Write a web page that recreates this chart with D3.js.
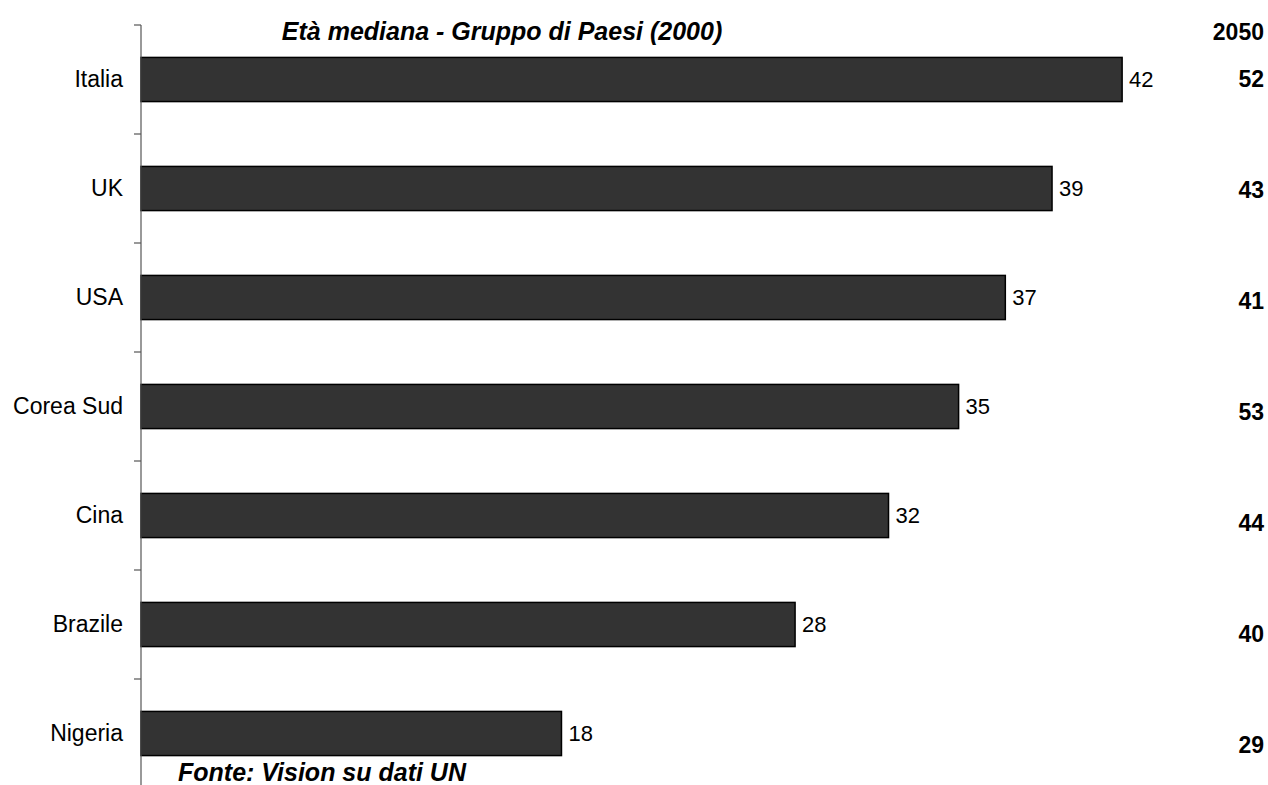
<!DOCTYPE html>
<html>
<head>
<meta charset="utf-8">
<script src="https://cdn.jsdelivr.net/npm/d3@7"></script>
<style>
  html, body { margin: 0; padding: 0; background: #fff; }
  svg { display: block; font-family: "Liberation Sans", Arial, sans-serif; }
</style>
</head>
<body>
<svg id="chart" width="1268" height="785"></svg>
<script>
const countries = ["Italia", "UK", "USA", "Corea Sud", "Cina", "Brazile", "Nigeria"];
const median2000 = [42, 39, 37, 35, 32, 28, 18];
const median2050 = [52, 43, 41, 53, 44, 40, 29];
const titleText = "Età mediana - Gruppo di Paesi (2000)";
const col2050Label = "2050";
const sourceText = "Fonte: Vision su dati UN";

const svg = d3.select("#chart");

const x = d3.scaleLinear().domain([0, 48]).range([141, 141 + 48 * 23.36]);
const y = d3.scaleBand().domain(countries).range([25, 788]).paddingInner(0.595).paddingOuter(0.2975);
const yRight = d3.scalePoint().domain(countries).range([79, 745]);

// bars
svg.append("g").selectAll("rect")
  .data(countries)
  .join("rect")
  .attr("x", x(0))
  .attr("y", d => y(d))
  .attr("width", (d, i) => x(median2000[i]) - x(0))
  .attr("height", y.bandwidth())
  .attr("fill", "#333333")
  .attr("stroke", "#000")
  .attr("stroke-width", 1.5);

// axis
const axis = d3.axisLeft(y).tickSize(0).tickPadding(18);
const ag = svg.append("g").attr("transform", `translate(${x(0)},0)`).call(axis);
ag.select(".domain").remove();
ag.selectAll("text").attr("font-size", 23).attr("fill", "#000")
  .attr("font-family", "Liberation Sans, Arial, sans-serif");

// axis line + boundary ticks
const bounds = d3.range(countries.length + 1).map(i => y.range()[0] + i * y.step());
svg.append("line")
  .attr("x1", x(0)).attr("x2", x(0))
  .attr("y1", bounds[0]).attr("y2", 785)
  .attr("stroke", "#555").attr("stroke-width", 1.2);
svg.append("g").selectAll("line")
  .data(bounds.filter(b => b < 785))
  .join("line")
  .attr("x1", x(0) - 7).attr("x2", x(0))
  .attr("y1", d => d).attr("y2", d => d)
  .attr("stroke", "#555").attr("stroke-width", 1.2);

// value labels
svg.append("g").selectAll("text")
  .data(countries)
  .join("text")
  .attr("x", (d, i) => x(median2000[i]) + 7)
  .attr("y", d => y(d) + y.bandwidth() / 2)
  .attr("dy", "0.36em")
  .attr("font-size", 22)
  .attr("fill", "#000")
  .text((d, i) => median2000[i]);

// 2050 column
svg.append("text")
  .attr("x", 1264).attr("y", 40)
  .attr("text-anchor", "end")
  .attr("font-size", 23).attr("font-weight", "bold")
  .text(col2050Label);
svg.append("g").selectAll("text")
  .data(countries)
  .join("text")
  .attr("x", 1264)
  .attr("y", d => yRight(d))
  .attr("dy", "0.36em")
  .attr("text-anchor", "end")
  .attr("font-size", 23).attr("font-weight", "bold")
  .text((d, i) => median2050[i]);

// title
svg.append("text")
  .attr("x", 502).attr("y", 40)
  .attr("text-anchor", "middle")
  .attr("font-size", 25).attr("font-weight", "bold").attr("font-style", "italic")
  .text(titleText);

// source
svg.append("text")
  .attr("x", 178).attr("y", 781)
  .attr("font-size", 25).attr("font-weight", "bold").attr("font-style", "italic")
  .text(sourceText);
</script>
</body>
</html>
